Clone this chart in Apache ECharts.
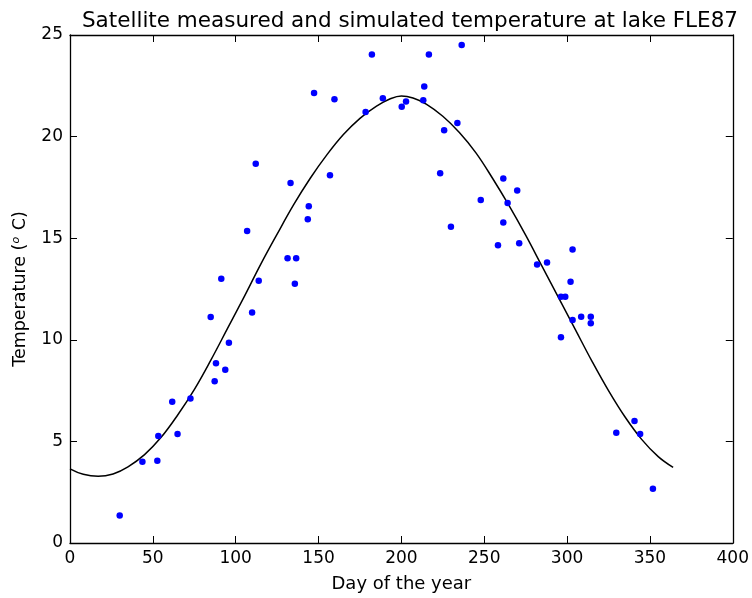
<!DOCTYPE html>
<html>
<head>
<meta charset="utf-8">
<script src="https://cdn.jsdelivr.net/npm/echarts@6/dist/echarts.min.js"></script>
<style>html,body{margin:0;padding:0;background:#fff;}#c{width:752px;height:598px;}</style>
</head>
<body>
<div id="c"></div>
<script>
// Satellite measured points: [day of year, temperature]
var measuredDays = [30.0,43.7,52.7,53.3,61.7,64.9,72.7,84.9,87.3,88.1,91.3,93.7,95.9,106.9,109.9,112.1,113.9,131.3,133.1,135.7,136.5,143.5,144.1,147.3,156.9,159.6,178.4,182.2,188.8,200.2,202.8,213.2,213.8,216.6,223.4,225.8,229.9,233.8,236.4,247.9,258.3,261.5,261.5,264.1,269.9,271.1,281.9,287.9,296.3,296.3,298.9,302.1,303.3,303.3,308.5,314.3,314.3,329.7,340.7,344.1,351.8];
var measuredTemps = [1.35,4.0,4.05,5.27,6.95,5.37,7.11,11.12,7.96,8.84,13.0,8.53,9.86,15.35,11.34,18.67,12.9,14.01,17.72,12.76,14.01,15.93,16.57,22.15,18.10,21.84,21.21,24.04,21.89,21.47,21.73,21.79,22.46,24.04,18.2,20.31,15.56,20.67,24.51,16.88,14.65,17.94,15.77,16.73,17.35,14.75,13.71,13.80,12.12,10.12,12.12,12.86,14.44,10.97,11.13,11.13,10.81,5.42,6.01,5.37,2.67];
// Simulated temperature curve
var simDays  = [0,8,17,26,35,45,55,65,75,85,95,105,115,125,135,145,155,165,175,185,193,200,207,215,225,235,245,255,265,275,285,295,305,315,325,335,345,355,364];
var simTemps = [3.65,3.38,3.28,3.40,3.75,4.35,5.2,6.3,7.55,9.0,10.55,12.1,13.7,15.2,16.65,17.95,19.1,20.1,20.9,21.5,21.85,22.0,21.9,21.6,21.0,20.2,19.2,17.95,16.6,15.15,13.6,12.05,10.5,8.95,7.5,6.2,5.1,4.25,3.72];
var xTicks = [0,50,100,150,200,250,300,350,400];
var yTicks = [0,5,10,15,20,25];

var measured = measuredDays.map(function(d,i){return [d, measuredTemps[i]];});
var sim = simDays.map(function(d,i){return [d, simTemps[i]];});

var font = 'DejaVu Sans';
var chart = echarts.init(document.getElementById('c'), null, {renderer:'canvas'});
var axisCommon = {
  axisLine:{show:true, onZero:false, lineStyle:{color:'#000', width:1.3}},
  axisTick:{show:true, inside:true, length:7, lineStyle:{color:'#000', width:1}},
  splitLine:{show:false}
};
chart.setOption({
  animation:false,
  backgroundColor:'#fff',
  title:{
    text:'Satellite measured and simulated temperature at lake FLE87',
    left:405, top:5, textAlign:'center',
    textStyle:{fontFamily:font, fontSize:21.5, fontWeight:'normal', color:'#000'}
  },
  grid:{left:70, right:17, top:35, bottom:52, containLabel:false},
  xAxis:[
    Object.assign({type:'value', min:xTicks[0], max:xTicks[xTicks.length-1], interval:50, position:'bottom',
      name:'Day of the year', nameLocation:'middle', nameGap:32,
      nameTextStyle:{fontFamily:font, fontSize:18, color:'#000'},
      axisLabel:{fontFamily:font, fontSize:17, color:'#000', margin:7}}, axisCommon),
    Object.assign({type:'value', min:xTicks[0], max:xTicks[xTicks.length-1], interval:50, position:'top',
      axisLabel:{show:false}}, axisCommon)
  ],
  yAxis:[
    Object.assign({type:'value', min:yTicks[0], max:yTicks[yTicks.length-1], interval:5, position:'left',
      name:'{a|Temperature (}{s|o}{a| C)}', nameLocation:'middle', nameGap:41, nameRotate:90,
      nameTextStyle:{fontFamily:font, fontSize:17.5, color:'#000',
        rich:{a:{fontFamily:font, fontSize:17.5, color:'#000'}, s:{fontFamily:font, fontSize:11, fontStyle:'italic', color:'#000', verticalAlign:'top', padding:[0,1,7,0]}}},
      axisLabel:{fontFamily:font, fontSize:17, color:'#000', margin:7}}, axisCommon),
    Object.assign({type:'value', min:yTicks[0], max:yTicks[yTicks.length-1], interval:5, position:'right',
      axisLabel:{show:false}}, axisCommon)
  ],
  series:[
    {type:'line', data:sim, smooth:0.4, showSymbol:false, symbol:'none',
      lineStyle:{color:'#000', width:1.5}, z:2, xAxisIndex:0, yAxisIndex:0},
    {type:'scatter', data:measured, symbol:'circle', symbolSize:6.5,
      itemStyle:{color:'#0000ff', opacity:1}, z:3, xAxisIndex:0, yAxisIndex:0}
  ]
});
</script>
</body>
</html>
